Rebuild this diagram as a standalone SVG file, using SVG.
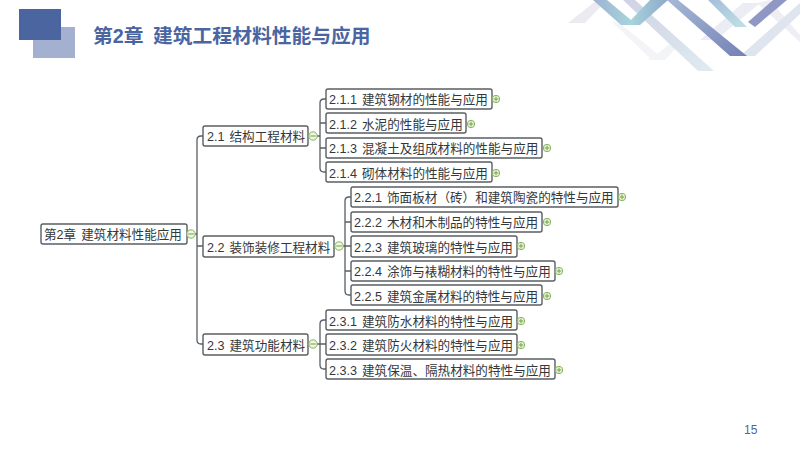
<svg xmlns="http://www.w3.org/2000/svg" width="800" height="450" viewBox="0 0 800 450">
<style>
text{font-family:"Liberation Sans","Noto Sans CJK SC",sans-serif}
.n rect{fill:#fff;stroke:#5a5f63;stroke-width:1.4}
.n text{font-size:12.6px;fill:#33383c;word-spacing:1.5px}
.c path{fill:none;stroke:#5a5f63;stroke-width:1.3}
.m circle{fill:#eef5e0;stroke:#86b45c;stroke-width:1}
.m path{fill:none;stroke:#6fa245;stroke-width:1}
</style>
<defs>
<g id="minus" class="m"><circle r="4.2"/><path d="M-2.8 0H2.8"/></g>
<g id="plus" class="m"><circle r="3.7"/><path d="M-2.4 0H2.4M0 -2.4V2.4"/></g>
<linearGradient id="g1" x1="0" y1="0" x2="1" y2="0"><stop offset="0" stop-color="#9db3d2"/><stop offset=".5" stop-color="#a8d3dc"/><stop offset="1" stop-color="#8ea9c8"/></linearGradient>
<linearGradient id="g2" x1="0" y1="0" x2="1" y2="1"><stop offset="0" stop-color="#cfd2e4"/><stop offset="1" stop-color="#dfecf0"/></linearGradient>
<linearGradient id="g3" x1="0" y1="0" x2="1" y2="1"><stop offset="0" stop-color="#a5b9d6"/><stop offset="1" stop-color="#7581b6"/></linearGradient>
<linearGradient id="g4" x1="0" y1="0" x2="1" y2="1"><stop offset="0" stop-color="#a5bedb"/><stop offset="1" stop-color="#bfe2e4"/></linearGradient>
</defs>
<rect width="800" height="450" fill="#fff"/>
<g id="decor">
<rect x="33" y="27" width="42" height="31" fill="#a4b0d0"/>
<rect x="19" y="9" width="42" height="31" fill="#4a659f"/>
<polygon points="568,23 597,0 607,0 585,23" fill="#ebebf1"/>
<polygon points="610,20 650,58 648,60 665,60 622,25" fill="#f4f4f8"/>
<polygon points="650,60 672,42 678,46 665,60" fill="#f3f4f8"/>
<polygon points="700,40 743,3 760,3 716,40" fill="#ececf4"/>
<polygon points="770,0 800,35 800,42 757,3" fill="#eeeef4"/>
<polygon points="623,0 635,0 714,71 698,71" fill="url(#g2)"/>
<polygon points="593,0 607,0 631,20 650,0 668,0 640,25 621,25" fill="url(#g1)"/>
<polygon points="740,56 800,3 800,14 755,56" fill="#dfe5ef"/>
<polygon points="667,0 678,0 747,56 730,56" fill="url(#g3)"/>
<polygon points="708,0 720,0 747,27 735,27" fill="url(#g4)"/>
<polygon points="773,0 787,0 755,27 748,22" fill="#8f98c4"/>
</g>
<text id="title" y="43" font-size="19.8" font-weight="700" fill="#4a659f"><tspan x="93">第2章</tspan><tspan x="153">建筑工程材料性能与应用</tspan></text>
<text id="page" x="744" y="434" font-size="12" fill="#4a659f">15</text>
<g id="connectors" class="c">
<path d="M191 234H197M203 136H201Q197 136 197 140V340Q197 344 201 344H203M197 246H203"/>
<path d="M312 136H320M326 99H324Q320 99 320 103V168Q320 172 324 172H326M320 123H326M320 148H326"/>
<path d="M338 246H345M351 197H349Q345 197 345 201V291Q345 295 349 295H351M345 222H351M345 246H351M345 271H351"/>
<path d="M312 344H320M326 320H324Q320 320 320 324V365Q320 369 324 369H326M320 344H326"/>
</g>
<g id="n0" class="n"><rect x="41" y="224" width="146" height="20" rx="2"/><text x="44" y="239">第2章 建筑材料性能应用</text></g>
<g id="n21" class="n"><rect x="203" y="126" width="105" height="20" rx="2"/><text x="207" y="141">2.1 结构工程材料</text></g>
<g id="n22" class="n"><rect x="203" y="236" width="131" height="21" rx="2"/><text x="207" y="252">2.2 装饰装修工程材料</text></g>
<g id="n23" class="n"><rect x="203" y="334" width="105" height="21" rx="2"/><text x="207" y="350">2.3 建筑功能材料</text></g>
<g id="n211" class="n"><rect x="326" y="89" width="166" height="20" rx="2"/><text x="329" y="104">2.1.1 建筑钢材的性能与应用</text></g>
<g id="n212" class="n"><rect x="326" y="113" width="140" height="20" rx="2"/><text x="329" y="129">2.1.2 水泥的性能与应用</text></g>
<g id="n213" class="n"><rect x="326" y="138" width="216" height="20" rx="2"/><text x="329" y="153">2.1.3 混凝土及组成材料的性能与应用</text></g>
<g id="n214" class="n"><rect x="326" y="162" width="166" height="20" rx="2"/><text x="329" y="178">2.1.4 砌体材料的性能与应用</text></g>
<g id="n221" class="n"><rect x="351" y="187" width="267" height="20" rx="2"/><text x="354" y="202">2.2.1 饰面板材（砖）和建筑陶瓷的特性与应用</text></g>
<g id="n222" class="n"><rect x="351" y="212" width="191" height="20" rx="2"/><text x="354" y="227">2.2.2 木材和木制品的特性与应用</text></g>
<g id="n223" class="n"><rect x="351" y="236" width="166" height="21" rx="2"/><text x="354" y="252">2.2.3 建筑玻璃的特性与应用</text></g>
<g id="n224" class="n"><rect x="351" y="261" width="204" height="20" rx="2"/><text x="354" y="276">2.2.4 涂饰与裱糊材料的特性与应用</text></g>
<g id="n225" class="n"><rect x="351" y="285" width="191" height="20" rx="2"/><text x="354" y="301">2.2.5 建筑金属材料的特性与应用</text></g>
<g id="n231" class="n"><rect x="326" y="310" width="191" height="20" rx="2"/><text x="329" y="326">2.3.1 建筑防水材料的特性与应用</text></g>
<g id="n232" class="n"><rect x="326" y="334" width="191" height="21" rx="2"/><text x="329" y="350">2.3.2 建筑防火材料的特性与应用</text></g>
<g id="n233" class="n"><rect x="326" y="359" width="229" height="20" rx="2"/><text x="329" y="375">2.3.3 建筑保温、隔热材料的特性与应用</text></g>
<g id="toggles">
<use href="#minus" x="191" y="234"/><use href="#minus" x="313" y="136"/><use href="#minus" x="339" y="246"/><use href="#minus" x="313" y="344"/>
<use href="#plus" x="496" y="99"/><use href="#plus" x="471" y="124"/><use href="#plus" x="547" y="148"/><use href="#plus" x="496" y="173"/>
<use href="#plus" x="622" y="197"/><use href="#plus" x="547" y="222"/><use href="#plus" x="521" y="246"/><use href="#plus" x="559" y="271"/><use href="#plus" x="547" y="296"/>
<use href="#plus" x="521" y="321"/><use href="#plus" x="521" y="345"/><use href="#plus" x="559" y="370"/>
</g>
</svg>
